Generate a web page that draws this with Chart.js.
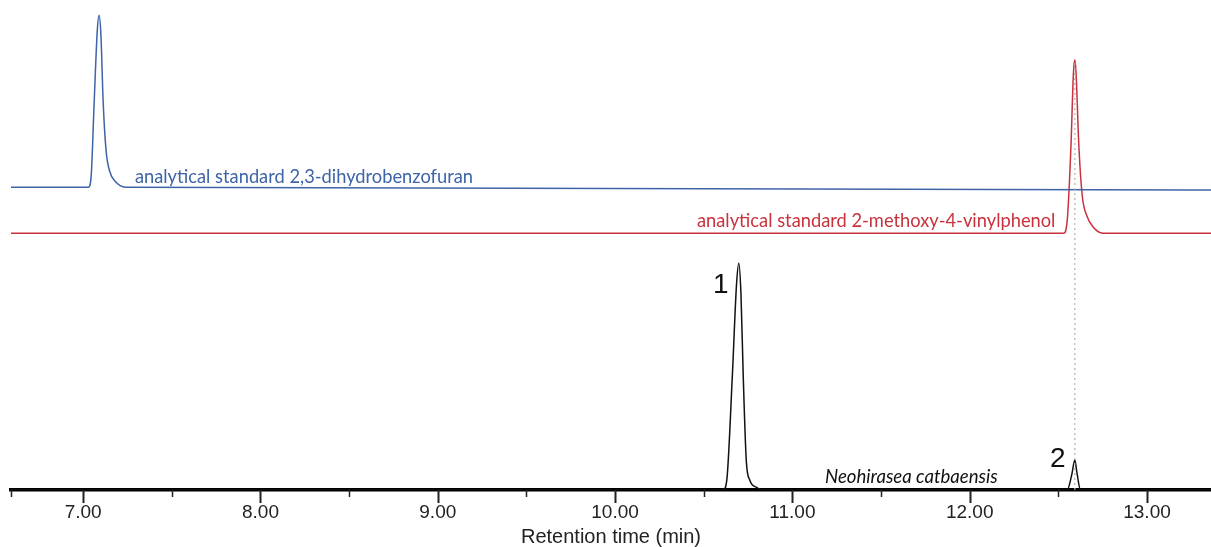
<!DOCTYPE html>
<html>
<head>
<meta charset="utf-8">
<script src="https://cdn.jsdelivr.net/npm/chart.js@4.4.1/dist/chart.umd.min.js"></script>
<style>
body { margin: 0; background: #fff; }
#wrap { width: 1211px; height: 547px; }
</style>
</head>
<body>
<div id="wrap"><canvas id="chromatogram"></canvas></div>
<script>
// retention time (min) vs signal (arbitrary units, each trace offset)
const blueTime = [6.59, 7.03, 7.045, 7.062, 7.08, 7.09, 7.10, 7.113, 7.13, 7.15, 7.18, 7.24, 13.37];
const blueSignal = [61.8, 61.8, 64, 79, 94, 96.9, 93, 79, 69, 65, 63, 61.8, 61.2];

const redTime = [6.59, 12.53, 12.55, 12.571, 12.585, 12.593, 12.60, 12.616, 12.635, 12.66, 12.70, 12.75, 13.37];
const redSignal = [52.4, 52.4, 55, 70, 85, 87.8, 85, 70, 60, 56, 53.5, 52.4, 52.4];

const blackTime = [6.59, 10.61, 10.63, 10.661, 10.685, 10.698, 10.71, 10.723, 10.74, 10.76, 10.80, 10.83, 12.55, 12.575, 12.593, 12.605, 12.625, 13.37];
const blackSignal = [0, 0, 2, 23, 42, 46.3, 40, 23, 6, 2, 0.5, 0, 0, 3, 6.1, 3.5, 0, 0];

// dotted guide from the standard peak down to peak 2
const guideTime = [12.593, 12.593];
const guideSignal = [0, 87.8];

const tickValues = [7, 7.5, 8, 8.5, 9, 9.5, 10, 10.5, 11, 11.5, 12, 12.5, 13];
const tickLabels = ['7.00', '', '8.00', '', '9.00', '', '10.00', '', '11.00', '', '12.00', '', '13.00'];

const BLUE = '#3d64a7';
const RED = '#c9323d';

function toPoints(xs, ys) {
    return xs.map((x, i) => ({ x: x, y: ys[i] }));
}

// text notes, anchored in data coordinates (left edge, baseline)
const notes = [
    { text: 'analytical standard 2,3-dihydrobenzofuran', t: 7.292, s: 62.65, color: BLUE, font: '18.3px Lato' },
    { text: 'analytical standard 2-methoxy-4-vinylphenol', t: 10.462, s: 53.67, color: RED, font: '18.3px Lato' },
    { text: 'Neohirasea catbaensis', t: 11.184, s: 1.43, color: '#111', font: 'italic 18.6px Lato' },
    { text: '1', t: 10.552, s: 40.2, color: '#111', font: '28px "Liberation Sans"' },
    { text: '2', t: 12.453, s: 4.7, color: '#111', font: '28px "Liberation Sans"' }
];

const notesPlugin = {
    id: 'notes',
    afterDatasetsDraw(chart) {
        const ctx = chart.ctx;
        const xs = chart.scales.x, ys = chart.scales.y;
        ctx.save();
        ctx.textBaseline = 'alphabetic';
        ctx.textAlign = 'left';
        notes.forEach(n => {
            ctx.font = n.font;
            ctx.fillStyle = n.color;
            ctx.fillText(n.text, xs.getPixelForValue(n.t), ys.getPixelForValue(n.s));
        });
        ctx.restore();
    }
};

// major and minor tick marks of different length
const tickMarks = {
    id: 'tickMarks',
    afterDraw(chart) {
        const xs = chart.scales.x, ctx = chart.ctx;
        const y0 = chart.chartArea.bottom;
        ctx.save();
        ctx.strokeStyle = '#222';
        [xs.min].concat(tickValues).forEach(v => {
            const major = Number.isInteger(v);
            const px = Math.round(xs.getPixelForValue(v)) + 0.5;
            ctx.lineWidth = major ? 2 : 1.5;
            ctx.beginPath();
            ctx.moveTo(px, y0);
            ctx.lineTo(px, y0 + (major ? 13 : 7));
            ctx.stroke();
        });
        ctx.restore();
    }
};

const lineStyle = {
    borderWidth: 1.5,
    pointRadius: 0,
    fill: false,
    cubicInterpolationMode: 'monotone'
};

new Chart(document.getElementById('chromatogram'), {
    type: 'line',
    data: {
        datasets: [
            Object.assign({ label: 'guide', data: toPoints(guideTime, guideSignal), borderColor: '#b0b0b0', borderDash: [2, 3] }, lineStyle, { borderWidth: 1.2, cubicInterpolationMode: 'default' }),
            Object.assign({ label: '2,3-dihydrobenzofuran', data: toPoints(blueTime, blueSignal), borderColor: BLUE }, lineStyle),
            Object.assign({ label: '2-methoxy-4-vinylphenol', data: toPoints(redTime, redSignal), borderColor: RED }, lineStyle),
            Object.assign({ label: 'Neohirasea catbaensis', data: toPoints(blackTime, blackSignal), borderColor: '#111' }, lineStyle)
        ]
    },
    options: {
        responsive: true,
        maintainAspectRatio: false,
        animation: false,
        layout: { padding: { left: 11, right: 0, top: 0, bottom: 0 } },
        plugins: { legend: { display: false }, tooltip: { enabled: false } },
        scales: {
            x: {
                type: 'linear',
                position: 'bottom',
                min: 6.593,
                max: 13.361,
                grid: { display: false, drawTicks: false },
                border: { display: true, width: 3.5, color: '#000' },
                afterBuildTicks: s => { s.ticks = tickValues.map(v => ({ value: v })); },
                afterFit: s => { s.height = 57; },
                ticks: {
                    autoSkip: false,
                    maxRotation: 0,
                    padding: 11,
                    color: '#222',
                    font: { family: '"Liberation Sans", Arial', size: 19 },
                    callback: (v, i) => tickLabels[i]
                },
                title: {
                    display: true,
                    text: 'Retention time (min)',
                    color: '#222',
                    padding: 0,
                    font: { family: '"Liberation Sans", Arial', size: 20, lineHeight: 1 }
                }
            },
            y: { display: false, min: 0, max: 100 }
        }
    },
    plugins: [notesPlugin, tickMarks]
});
</script>
</body>
</html>
